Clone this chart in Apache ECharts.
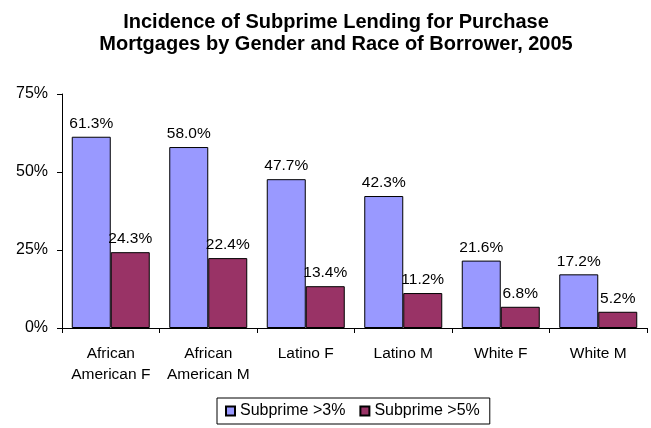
<!DOCTYPE html>
<html><head><meta charset="utf-8">
<script src="https://cdn.jsdelivr.net/npm/echarts@6/dist/echarts.min.js"></script>
<style>html,body{margin:0;padding:0;background:#fff}#c{width:651px;height:428px}</style>
</head><body><div id="c"></div>
<script>
const categories = ['African\nAmerican F','African\nAmerican M','Latino F','Latino M','White F','White M'];
const subprime3 = [61.3, 58.0, 47.7, 42.3, 21.6, 17.2];
const subprime5 = [24.3, 22.4, 13.4, 11.2, 6.8, 5.2];
const seriesNames = ['Subprime >3%', 'Subprime >5%'];
const titleText = 'Incidence of Subprime Lending for Purchase\nMortgages by Gender and Race of Borrower, 2005';

const font = 'Liberation Sans, Arial, sans-serif';
const chart = echarts.init(document.getElementById('c'), null, {renderer:'canvas'});
const lbl = {show:true, position:'top', distance:5, color:'#000', fontFamily:font, fontSize:15.5,
  formatter: p => p.value.toFixed(1) + '%'};
chart.setOption({
  animation:false,
  title:{text:titleText, left:331, top:6, textAlign:'center',
    textStyle:{fontFamily:font, fontSize:20, fontWeight:'bold', color:'#000', lineHeight:22}},
  legend:{top:398, left:217, itemWidth:9, itemHeight:9, itemGap:14,
    borderColor:'#000', borderWidth:1, padding:[5,10,5,8],
    textStyle:{fontFamily:font, fontSize:16, color:'#000'},
    icon:'rect', data:seriesNames},
  grid:{left:62, right:4, top:94, bottom:100},
  xAxis:{type:'category', data:categories,
    axisLine:{lineStyle:{color:'#000'}}, axisTick:{show:true, length:5, inside:false},
    axisLabel:{interval:0, fontFamily:font, fontSize:15.5, color:'#000', lineHeight:21, margin:15}},
  yAxis:{type:'value', min:0, max:75, interval:25,
    axisLine:{show:true, lineStyle:{color:'#000'}}, axisTick:{show:true, length:5},
    splitLine:{show:false},
    axisLabel:{fontFamily:font, fontSize:16, color:'#000', formatter:'{value}%', margin:14}},
  series:[
    {name:seriesNames[0], type:'bar', data:subprime3, barGap:'0%', barCategoryGap:'20%',
      itemStyle:{color:'#9999FF', borderColor:'#000', borderWidth:1}, label:lbl},
    {name:seriesNames[1], type:'bar', data:subprime5,
      itemStyle:{color:'#993366', borderColor:'#000', borderWidth:1}, label:lbl}
  ]
});
</script></body></html>
